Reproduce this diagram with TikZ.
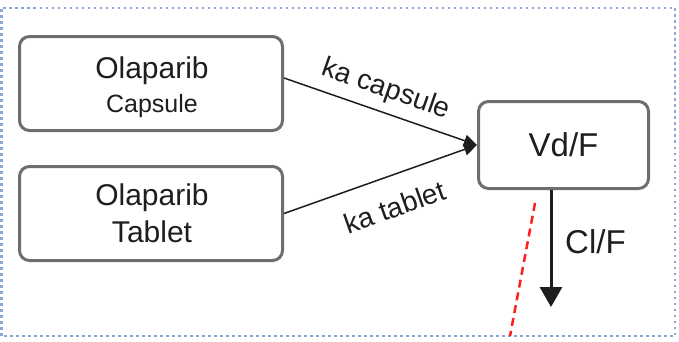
\documentclass[tikz,border=0pt]{standalone}
\usepackage{fontspec}
\setmainfont{Liberation Sans}
\usetikzlibrary{arrows.meta,calc}
\definecolor{boxgray}{HTML}{6E6E6E}
\definecolor{frameblue}{HTML}{8CA6D8}
\definecolor{ink}{HTML}{1E1E1E}
\definecolor{cutred}{HTML}{FF1E1E}
\tikzset{
  dosebox/.style={draw=boxgray, line width=3pt, rounded corners=10pt, fill=white,
    minimum width=263pt, minimum height=94pt, inner sep=0pt},
  centbox/.style={draw=boxgray, line width=3pt, rounded corners=10pt, fill=white,
    minimum width=170pt, minimum height=87pt, inner sep=0pt,
    font=\fontsize{33}{36}\selectfont, text=ink},
  bigtxt/.style={font=\fontsize{30}{34}\selectfont, text=ink, inner sep=0pt, anchor=base},
  smalltxt/.style={font=\fontsize{25}{28}\selectfont, text=ink, inner sep=0pt, anchor=base},
  ratetxt/.style={font=\fontsize{28}{30}\selectfont, text=ink, inner sep=0pt, sloped},
  absorb/.style={draw=ink, line width=1.5pt, -{Triangle[length=13pt,width=12pt]}},
  elim/.style={draw=ink, line width=3pt, -{Triangle[length=20pt,width=22pt]}},
}
\begin{document}
\begin{tikzpicture}[x=1pt,y=1pt]
  \useasboundingbox (0,0) rectangle (679,341);
  % dotted frame
  \draw[frameblue, line width=2.6pt, dash pattern=on 2.8pt off 3.2pt]
    (1.5,5) rectangle (675,333);

  % compartments
  \node[dosebox] (cap) at (151,257.5) {};
  \node[dosebox] (tab) at (151,127.5) {};
  \node[centbox] (vd) at (563.5,196) {Vd/F};

  \node[bigtxt]   (capname) at (152,263) {Olaparib};
  \node[smalltxt] (capform) at (152,229) {Capsule};
  \node[bigtxt]   (tabname) at (152,136) {Olaparib};
  \node[bigtxt]   (tabform) at (152,99)  {Tablet};

  % absorption
  \draw[absorb] ([yshift=5.5pt]cap.east) -- (vd.west)
    node[ratetxt, pos=0.49, anchor=base, yshift=15pt] (kacap) {ka capsule};
  \draw[absorb] (tab.east) -- (vd.west)
    node[ratetxt, pos=0.52, anchor=base, yshift=-41pt] (katab) {ka tablet};

  % elimination
  \coordinate (clstart) at ([xshift=-12.5pt]vd.south);
  \coordinate (clend) at (551,34);
  \draw[elim] (clstart) -- (clend);
  \node[font=\fontsize{33}{36}\selectfont, text=ink, inner sep=0pt, anchor=base west]
    (cl) at (565,88) {Cl/F};

  % red dashed cut
  \coordinate (cuttop) at (535,138);
  \coordinate (cutbot) at (510,5);
  \draw[cutred, line width=2.5pt, dash pattern=on 8pt off 5pt] (cuttop) -- (cutbot);
\end{tikzpicture}
\end{document}
